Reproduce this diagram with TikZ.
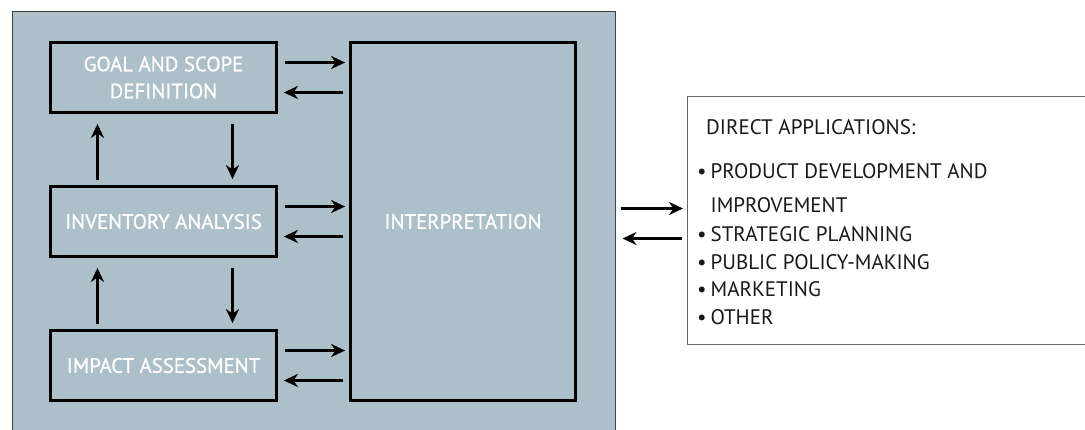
\documentclass[tikz,border=0pt]{standalone}
\usepackage{fontspec}
\setmainfont{PT Sans}
\newfontfamily\medfont[FakeBold=0.6]{PT Sans}
\usetikzlibrary{arrows.meta,calc}
\definecolor{panelblue}{RGB}{173,191,200}
\begin{document}
\begin{tikzpicture}[x=1pt,y=-1pt,
  stagebox/.style={draw=black, line width=2.8pt, fill=panelblue, text=white,
    font=\medfont\fontsize{20.8}{27}\selectfont, align=center, inner sep=0pt},
  arr/.style={line width=2.3pt, -{Stealth[length=14pt,width=13pt,inset=4.5pt]}},
  apptext/.style={anchor=base west, inner sep=0pt, font=\fontsize{21}{27}\selectfont, text=black!90},
]
\clip (0,0) rectangle (1085,429);
\node[draw=black!75, line width=1pt, fill=panelblue, minimum width=603pt, minimum height=440pt, inner sep=0pt] (panel) at (313.5,231) {};
\node[stagebox, minimum width=226pt, minimum height=70pt] (goal) at (163.5,77.5) {GOAL AND SCOPE\\DEFINITION};
\node[stagebox, minimum width=226pt, minimum height=70pt] (inv) at (163.5,221.5) {INVENTORY ANALYSIS};
\node[stagebox, minimum width=226pt, minimum height=70pt] (imp) at (163.5,365.5) {IMPACT ASSESSMENT};
\node[stagebox, minimum width=225pt, minimum height=358pt] (interp) at (463,221.5) {INTERPRETATION};
\node[draw=black!60, line width=1pt, fill=white, minimum width=420pt, minimum height=248pt, anchor=north west, inner sep=0pt] (app) at (687,96) {};
\node[apptext] (t0) at (706,134) {DIRECT APPLICATIONS:};
\node[apptext] (t1) at (697,178) {\makebox[13.5pt][l]{•}PRODUCT DEVELOPMENT AND};
\node[apptext] (t2) at (710.5,212) {IMPROVEMENT};
\node[apptext] (t3) at (697,241) {\makebox[13.5pt][l]{•}STRATEGIC PLANNING};
\node[apptext] (t4) at (697,269) {\makebox[13.5pt][l]{•}PUBLIC POLICY-MAKING};
\node[apptext] (t5) at (697,296) {\makebox[13.5pt][l]{•}MARKETING};
\node[apptext] (t6) at (697,324) {\makebox[13.5pt][l]{•}OTHER};
% horizontal arrows stage <-> interpretation
\foreach \s in {goal,inv,imp}{
  \draw[arr, shorten <=7pt, shorten >=4pt] ([yshift=15pt]\s.east) -- ([yshift=15pt]\s.east -| interp.west);
  \draw[arr, shorten <=6pt, shorten >=6pt] ([yshift=-15pt]\s.east -| interp.west) -- ([yshift=-15pt]\s.east);
}
% vertical arrows
\draw[arr, shorten <=5pt, shorten >=10pt] ([xshift=-66pt]inv.north) -- ([xshift=-66pt]inv.north |- goal.south);
\draw[arr, shorten <=10pt, shorten >=6pt] ([xshift=69pt]goal.south) -- ([xshift=69pt]goal.south |- inv.north);
\draw[arr, shorten <=5pt, shorten >=10pt] ([xshift=-66pt]imp.north) -- ([xshift=-66pt]imp.north |- inv.south);
\draw[arr, shorten <=10pt, shorten >=6pt] ([xshift=69pt]inv.south) -- ([xshift=69pt]inv.south |- imp.north);
% arrows panel <-> applications
\draw[arr, shorten <=5pt, shorten >=4pt] ([yshift=12pt]app.west -| panel.east) -- ([yshift=12pt]app.west);
\draw[arr, shorten <=5pt, shorten >=7pt] ([yshift=-18pt]app.west) -- ([yshift=-18pt]app.west -| panel.east);
\end{tikzpicture}
\end{document}
